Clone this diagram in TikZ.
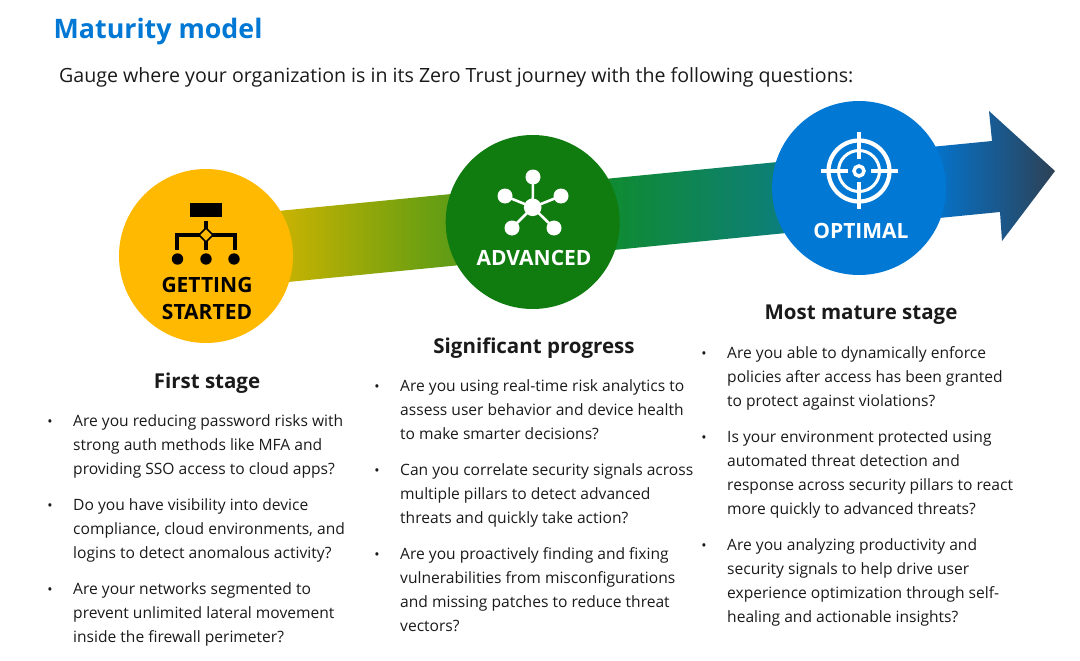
\documentclass[tikz,border=0pt]{standalone}
\usepackage{fontspec}
\setmainfont{Open Sans}
\definecolor{msblue}{HTML}{0078D4}
\definecolor{msyellow}{HTML}{FFB900}
\definecolor{msgreen}{HTML}{107C10}
\definecolor{txt}{HTML}{1A1A1A}
\definecolor{ga}{HTML}{D6B500}
\definecolor{gb}{HTML}{6FA010}
\definecolor{gc}{HTML}{0F8A34}
\definecolor{gd}{HTML}{0E8070}
\definecolor{ge}{HTML}{0078D7}
\definecolor{gf}{HTML}{2F3F50}
\pgfdeclarehorizontalshading{journey}{100bp}{
 color(0bp)=(ga);
 color(25bp)=(ga);
 color(35bp)=(gb);
 color(47bp)=(gc);
 color(56bp)=(gd);
 color(66bp)=(ge);
 color(74.5bp)=(gf);
 color(100bp)=(gf)}
\newcommand{\bodysize}{\fontsize{15.6}{24}\selectfont}
\newcommand{\bul}[4]{% name, x, y of first line centre, lines
 \node[bulletmark] (#1b) at (#2,#3+3) {•};
 \node[bodytext] (#1) at (#2+23,#3-6) {#4};}
\tikzset{
 bulletmark/.style={anchor=center,inner sep=0pt,font=\fontsize{14}{14}\selectfont,text=txt},
 bodytext/.style={anchor=north west,inner sep=0pt,align=left,font=\bodysize,text=txt},
 heading/.style={anchor=center,inner sep=0pt,font=\fontsize{20.5}{24}\selectfont\bfseries,text=txt},
 stage/.style={circle,inner sep=0pt,minimum size=174pt},
 stagelabel/.style={anchor=center,inner sep=0pt,align=center,font=\fontsize{21}{27}\selectfont\bfseries},
}
\begin{document}
\begin{tikzpicture}[x=1pt,y=-1pt]
\useasboundingbox (0,0) rectangle (1080,661);
% arrow
\begin{scope}
 \clip (278,211) -- (992,141) -- (989,111) -- (1055,171) -- (1002,241) -- (1000,212) -- (288,282) -- cycle;
 \shade[shading=journey,rotate around={5.6:(670,180)}] (270,60) rectangle (1058,300);
\end{scope}
% stages
\node[stage,fill=msyellow] (s1) at (206,256) {};
\node[stage,fill=msgreen] (s2) at (532.7,222) {};
\node[stage,fill=msblue] (s3) at (859,188) {};
% icon 1
\fill (190,203) rectangle (222,217);
\draw[line width=3.2pt] (206,221) -- (206,250);
\draw[line width=3.2pt] (177,250) -- (177,235) -- (235,235) -- (235,250);
\fill (177.5,259) circle (5.7) (206,259) circle (5.7) (234,259) circle (5.7);
\draw[line width=1.5pt,fill=msyellow] (206,228) -- (213,235) -- (206,242) -- (199,235) -- cycle;
% icon 2
\begin{scope}[white]
\draw[line width=2.6pt] (532.7,207.3) -- (533,177) (532.7,207.3) -- (505,196) (532.7,207.3) -- (561,196) (532.7,207.3) -- (512,228) (532.7,207.3) -- (554,228);
\fill (532.7,207.3) circle (8.8) (533,177) circle (7.5) (505,196) circle (7.5) (561,196) circle (7.5) (512,228) circle (7.5) (554,228) circle (7.5);
\end{scope}
% icon 3
\begin{scope}[white]
\draw[line width=4.2pt] (859,171) circle (30.5);
\draw[line width=3pt] (859,171) circle (20.5);
\draw[line width=3.5pt] (859,171) circle (5);
\draw[line width=3.2pt] (821,171) -- (848,171) (871,171) -- (898,171) (859,132) -- (859,159) (859,182) -- (859,209);
\end{scope}
% labels
\node[stagelabel,text=black] (l1) at (207,298) {GETTING\\STARTED};
\node[stagelabel,text=white] (l2) at (534,258) {ADVANCED};
\node[stagelabel,text=white] (l3) at (861,231) {OPTIMAL};
% title
\node[anchor=base west,inner sep=0pt,font=\fontsize{26.8}{30}\selectfont\bfseries,text=msblue] (title) at (53.5,39) {Maturity model};
\node[anchor=west,inner sep=0pt,font=\fontsize{19.6}{24}\selectfont,text=txt] (sub) at (59,77) {Gauge where your organization is in its Zero Trust journey with the following questions:};
% headings
\node[heading] (h1) at (207,383) {First stage};
\node[heading] (h2) at (534,348) {Significant progress};
\node[heading] (h3) at (861,315) {Most mature stage};
% bullets
\bul{a1}{50}{420}{Are you reducing password risks with\\strong auth methods like MFA and\\providing SSO access to cloud apps?}
\bul{a2}{50}{504}{Do you have visibility into device\\compliance, cloud environments, and\\logins to detect anomalous activity?}
\bul{a3}{50}{588}{Are your networks segmented to\\prevent unlimited lateral movement\\inside the firewall perimeter?}
\bul{b1}{377}{385}{Are you using real-time risk analytics to\\assess user behavior and device health\\to make smarter decisions?}
\bul{b2}{377}{469}{Can you correlate security signals across\\multiple pillars to detect advanced\\threats and quickly take action?}
\bul{b3}{377}{553}{Are you proactively finding and fixing\\vulnerabilities from misconfigurations\\and missing patches to reduce threat\\vectors?}
\bul{c1}{704}{352}{Are you able to dynamically enforce\\policies after access has been granted\\to protect against violations?}
\bul{c2}{704}{436}{Is your environment protected using\\automated threat detection and\\response across security pillars to react\\more quickly to advanced threats?}
\bul{c3}{704}{544}{Are you analyzing productivity and\\security signals to help drive user\\experience optimization through self-\\healing and actionable insights?}
\end{tikzpicture}
\end{document}
